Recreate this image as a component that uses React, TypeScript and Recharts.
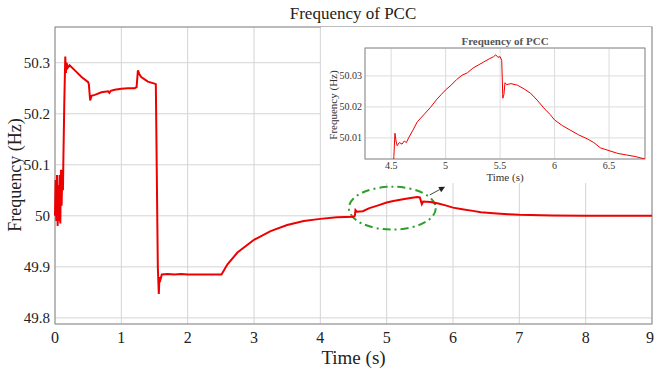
import { LineChart, Line, XAxis, YAxis, CartesianGrid, ReferenceArea } from "recharts";

// main trace: time (s) and PCC frequency (Hz)
const mainTime = [
  0, 0.01, 0.02, 0.03, 0.04, 0.05, 0.06, 0.07, 0.08, 0.09, 0.1, 0.11, 0.12, 0.125, 0.14, 0.155,
  0.165, 0.175, 0.19, 0.22, 0.3, 0.4, 0.5, 0.51, 0.53, 0.55, 0.6, 0.7, 0.8, 0.82, 0.84, 0.9, 1.0,
  1.1, 1.2, 1.23, 1.25, 1.27, 1.3, 1.4, 1.5, 1.52, 1.55, 1.565, 1.575, 1.59, 1.61, 1.7, 1.8, 1.9,
  2.0, 2.2, 2.4, 2.51, 2.6, 2.75, 3.0, 3.25, 3.5, 3.75, 4.0, 4.25, 4.5, 4.52, 4.53, 4.55, 4.64,
  4.74, 4.86, 5.0, 5.1, 5.29, 5.41, 5.46, 5.5, 5.53, 5.55, 5.66, 5.78, 5.9, 6.0, 6.14, 6.3, 6.42,
  6.66, 6.83, 7.0, 7.5, 8.0, 9.0,
];
const mainFreq = [
  50.0, 50.07, 49.99, 50.08, 49.98, 50.06, 49.99, 50.08, 49.985, 50.09, 50.02, 50.09, 50.05, 50.1,
  50.22, 50.312, 50.28, 50.3, 50.29, 50.295, 50.285, 50.272, 50.262, 50.258, 50.226, 50.235,
  50.237, 50.242, 50.244, 50.241, 50.245, 50.247, 50.249, 50.25, 50.25, 50.252, 50.285, 50.278,
  50.272, 50.263, 50.259, 50.258, 49.9, 49.847, 49.88, 49.875, 49.885, 49.886, 49.885, 49.886,
  49.885, 49.885, 49.885, 49.885, 49.905, 49.928, 49.953, 49.97, 49.982, 49.99, 49.994, 49.997,
  49.998, 50.0, 50.011, 50.008, 50.009, 50.015, 50.02, 50.026, 50.029, 50.0335, 50.036, 50.037,
  50.036, 50.023, 50.028, 50.027, 50.024, 50.02, 50.016, 50.013, 50.0097, 50.007, 50.0045,
  50.0032, 50.002, 50.0008, 50.0003, 50.0,
];

// zoomed trace for the inset
const zoomTime = [
  4.515, 4.525, 4.535, 4.545, 4.555, 4.575, 4.6, 4.62, 4.64, 4.66, 4.7, 4.74, 4.8, 4.86, 4.92,
  4.96, 5.0, 5.05, 5.1, 5.15, 5.2, 5.25, 5.3, 5.35, 5.4, 5.44, 5.46, 5.48, 5.5, 5.515, 5.525,
  5.535, 5.545, 5.56, 5.6, 5.66, 5.72, 5.78, 5.84, 5.9, 5.96, 6.0, 6.07, 6.14, 6.22, 6.3, 6.36,
  6.42, 6.5, 6.58, 6.66, 6.74, 6.83,
];
const zoomFreq = [
  49.998, 50.004, 50.0115, 50.009, 50.0075, 50.0085, 50.008, 50.009, 50.0085, 50.01, 50.0125,
  50.0152, 50.0175, 50.0198, 50.0225, 50.024, 50.0255, 50.027, 50.0288, 50.0302, 50.031, 50.0325,
  50.0335, 50.0345, 50.0355, 50.0362, 50.0368, 50.036, 50.0362, 50.035, 50.0228, 50.024, 50.0278,
  50.0272, 50.0275, 50.027, 50.0258, 50.0244, 50.0222, 50.0197, 50.0175, 50.0158, 50.014,
  50.0126, 50.011, 50.0097, 50.0085, 50.0068, 50.0059, 50.005, 50.0045, 50.004, 50.0032,
];

const mainXTicks = [0, 1, 2, 3, 4, 5, 6, 7, 8, 9];
const mainYTicks = [49.8, 49.9, 50.0, 50.1, 50.2, 50.3];
const zoomXTicks = [4.5, 5, 5.5, 6, 6.5];
const zoomYTicks = [50.01, 50.02, 50.03];

const FONT = "'Liberation Serif', 'Times New Roman', serif";
const RED = "#ee0000";

const mainData = mainTime.map((t, i) => ({ t, f: mainFreq[i] }));
const zoomData = zoomTime.map((t, i) => ({ t, f: zoomFreq[i] }));

const MAIN_Y: [number, number] = [49.788, 50.37];
const ZOOM_X: [number, number] = [4.26, 6.83];
const ZOOM_Y: [number, number] = [50.0032, 50.039];

const Ellipse = (p: any) => (
  <ellipse
    cx={p.x + p.width / 2}
    cy={p.y + p.height / 2}
    rx={p.width / 2}
    ry={p.height / 2}
    fill="none"
    stroke="#2ca02c"
    strokeWidth={2}
    strokeDasharray="8 4 2 4"
  />
);

const Arrow = (p: any) => {
  const x1 = p.x, y1 = p.y + p.height, x2 = p.x + p.width, y2 = p.y;
  const a = Math.atan2(y2 - y1, x2 - x1);
  const L = 6, W = 3;
  const bx = x2 - L * Math.cos(a), by = y2 - L * Math.sin(a);
  const pts = `${x2},${y2} ${bx - W * Math.sin(a)},${by + W * Math.cos(a)} ${bx + W * Math.sin(a)},${by - W * Math.cos(a)}`;
  return (
    <g>
      <line x1={x1} y1={y1} x2={bx} y2={by} stroke="#444" strokeWidth={1} />
      <polygon points={pts} fill="#222" />
    </g>
  );
};

const Frame = (p: any) => (
  <rect x={p.x} y={p.y} width={p.width} height={p.height} fill="none" stroke="#8c8c8c" strokeWidth={1} />
);

const fmt1 = (v: number) => String(+v.toFixed(1));
const fmt2 = (v: number) => v.toFixed(2);

export default function App() {
  return (
    <div style={{ position: "absolute", left: 0, top: 0, width: 654, height: 372, background: "#fff", fontFamily: FONT }}>
      <LineChart width={654} height={372} data={mainData} margin={{ top: 27, right: 2, bottom: 18, left: 10 }}>
        <CartesianGrid stroke="#d4d4d4" strokeWidth={1} />
        <XAxis
          dataKey="t"
          type="number"
          domain={[0, 9]}
          ticks={mainXTicks}
          height={30}
          axisLine={false}
          tickLine={false}
          tickSize={4}
          tickMargin={4}
          tick={{ fontSize: 16, fill: "#222", fontFamily: FONT }}
        />
        <YAxis
          type="number"
          domain={MAIN_Y}
          ticks={mainYTicks}
          width={45}
          axisLine={false}
          tickLine={false}
          tickSize={3}
          tickMargin={2}
          tickFormatter={fmt1}
          allowDataOverflow
          tick={{ fontSize: 15, fill: "#222", fontFamily: FONT }}
        />
        <ReferenceArea x1={0} x2={9} y1={MAIN_Y[0]} y2={MAIN_Y[1]} shape={Frame} />
        <Line dataKey="f" stroke={RED} strokeWidth={2} dot={false} isAnimationActive={false} type="linear" />
        <ReferenceArea x1={4.43} x2={5.74} y1={49.973} y2={50.057} shape={Ellipse} />
        <ReferenceArea x1={5.65} x2={5.88} y1={50.041} y2={50.057} shape={Arrow} />
      </LineChart>

      <div style={{ position: "absolute", left: 0, width: 706, top: 4, textAlign: "center", fontSize: 17, color: "#222" }}>
        Frequency of PCC
      </div>
      <div style={{ position: "absolute", left: 55, width: 597, top: 347, textAlign: "center", fontSize: 19, color: "#222" }}>
        Time (s)
      </div>
      <div
        style={{
          position: "absolute", left: 15, top: 175, fontSize: 18, color: "#222", whiteSpace: "nowrap",
          transform: "translate(-50%, -50%) rotate(-90deg)",
        }}
      >
        Frequency (Hz)
      </div>

      <div style={{ position: "absolute", left: 321, top: 27, width: 330, height: 156, background: "#fff" }}>
        <LineChart width={330} height={156} data={zoomData} margin={{ top: 21, right: 6, bottom: 7, left: 4 }}>
          <CartesianGrid stroke="#dcdcdc" strokeWidth={1} />
          <XAxis
            dataKey="t"
            type="number"
            domain={ZOOM_X}
            ticks={zoomXTicks}
            height={17}
            axisLine={false}
            tickLine={false}
            tickSize={2}
            tickMargin={1}
            allowDataOverflow
            tick={{ fontSize: 10, fill: "#333", fontFamily: FONT }}
          />
          <YAxis
            type="number"
            domain={ZOOM_Y}
            ticks={zoomYTicks}
            width={40}
            axisLine={false}
            tickLine={false}
            tickSize={2}
            tickMargin={1}
            tickFormatter={fmt2}
            allowDataOverflow
            tick={{ fontSize: 10, fill: "#333", fontFamily: FONT }}
          />
          <ReferenceArea x1={ZOOM_X[0]} x2={ZOOM_X[1]} y1={ZOOM_Y[0]} y2={ZOOM_Y[1]} shape={Frame} />
          <Line dataKey="f" stroke={RED} strokeWidth={1} dot={false} isAnimationActive={false} type="linear" />
        </LineChart>
        <div style={{ position: "absolute", left: 44, width: 280, top: 8, textAlign: "center", fontSize: 11, fontWeight: "bold", color: "#555" }}>
          Frequency of PCC
        </div>
        <div style={{ position: "absolute", left: 44, width: 280, top: 144, textAlign: "center", fontSize: 11, color: "#333", lineHeight: "12px" }}>
          Time (s)
        </div>
        <div
          style={{
            position: "absolute", left: 12, top: 78, fontSize: 11, color: "#333", whiteSpace: "nowrap",
            transform: "translate(-50%, -50%) rotate(-90deg)",
          }}
        >
          Frequency (Hz)
        </div>
      </div>
    </div>
  );
}
